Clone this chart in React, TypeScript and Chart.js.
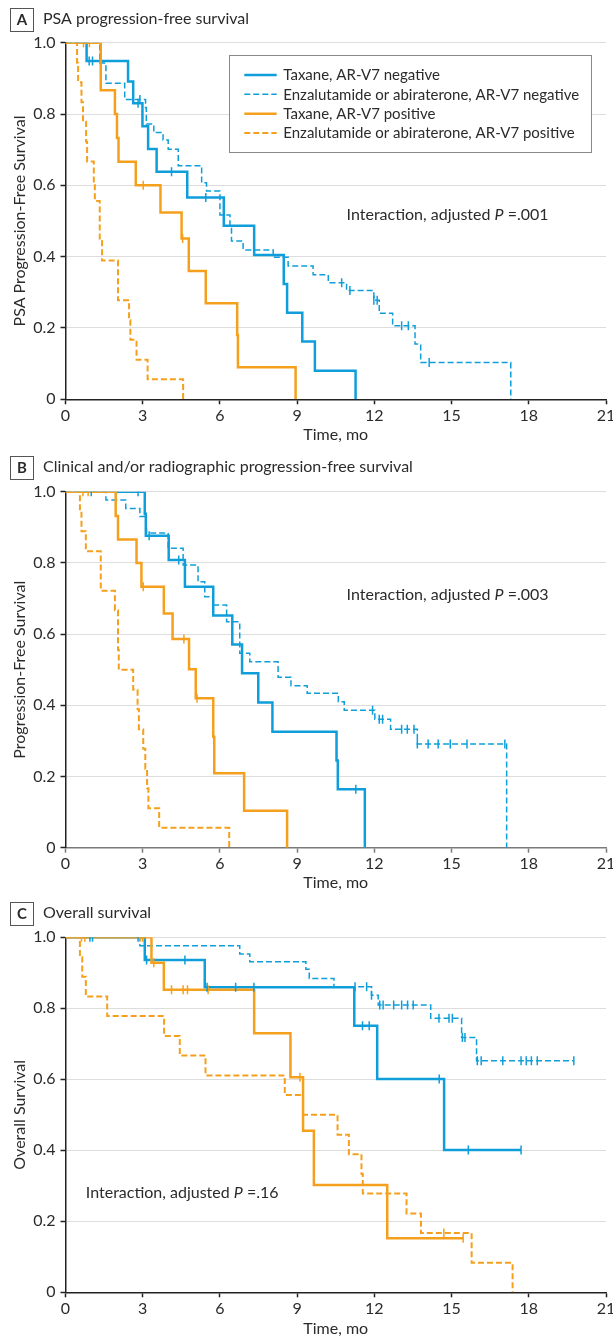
import React, { useEffect, useRef } from "react";
import { Chart, registerables } from "chart.js";

Chart.register(...registerables);

const FONT = "Lato, 'Noto Sans', sans-serif";
const TEXT = "#2b2b2b";
const BLUE = "#0F9EDA";
const ORANGE = "#F5A01C";

// ---- labels / ticks ----
const seriesLabels = [
  "Taxane, AR-V7 negative",
  "Enzalutamide or abiraterone, AR-V7 negative",
  "Taxane, AR-V7 positive",
  "Enzalutamide or abiraterone, AR-V7 positive",
];
const xTicks = [0, 3, 6, 9, 12, 15, 18, 21];
const yTicks = [0, 0.2, 0.4, 0.6, 0.8, 1.0];
const xTitle = "Time, mo";

// ---- Panel A: PSA progression-free survival ----
const psaTaxNegT = [0, 0.82, 2.43, 2.63, 2.99, 3.21, 3.54, 4.73, 6.15, 7.33, 8.48, 8.61, 9.2, 9.69, 11.27];
const psaTaxNegS = [1, 0.949, 0.891, 0.83, 0.766, 0.702, 0.638, 0.566, 0.487, 0.405, 0.323, 0.243, 0.162, 0.08, 0];
const psaTaxNegC = [0.92, 1.05, 2.82, 4.12, 5.45];

const psaEnzNegT = [0, 1.33, 1.57, 2.3, 3.11, 3.14, 3.43, 3.79, 3.99, 4.38, 5.29, 5.48, 6.0, 6.39, 6.45, 6.9, 8.07, 8.65, 9.62, 10.21, 10.92, 11.98, 12.19, 12.71, 13.58, 13.8, 17.3];
const psaEnzNegS = [1, 0.943, 0.886, 0.841, 0.818, 0.772, 0.748, 0.727, 0.701, 0.655, 0.607, 0.584, 0.517, 0.487, 0.444, 0.419, 0.398, 0.374, 0.349, 0.327, 0.305, 0.278, 0.241, 0.206, 0.155, 0.103, 0];
const psaEnzNegC = [2.89, 10.73, 11.05, 11.98, 12.11, 13.06, 13.32, 14.13];

const psaTaxPosT = [0, 1.37, 1.92, 2.0, 2.06, 2.73, 3.69, 4.51, 4.79, 5.45, 6.67, 6.7, 8.94];
const psaTaxPosS = [1, 0.867, 0.8, 0.733, 0.666, 0.6, 0.524, 0.451, 0.36, 0.269, 0.18, 0.09, 0];
const psaTaxPosC = [0.7, 0.93, 3.02, 4.55];

const psaEnzPosT = [0, 0.45, 0.49, 0.62, 0.68, 0.8, 0.84, 1.1, 1.14, 1.33, 1.42, 2.04, 2.47, 2.52, 2.76, 3.19, 4.57];
const psaEnzPosS = [1, 0.944, 0.889, 0.833, 0.778, 0.722, 0.667, 0.611, 0.556, 0.444, 0.389, 0.278, 0.222, 0.167, 0.111, 0.056, 0];
const psaEnzPosC: number[] = [];

// ---- Panel B: clinical/radiographic PFS ----
const pfsTaxNegT = [0, 3.08, 3.12, 4.01, 4.64, 5.74, 6.48, 6.86, 7.49, 8.04, 10.53, 10.58, 11.63];
const pfsTaxNegS = [1, 0.938, 0.876, 0.808, 0.733, 0.652, 0.571, 0.49, 0.408, 0.326, 0.245, 0.164, 0];
const pfsTaxNegC = [2.82, 3.25, 4.4, 11.28];

const pfsEnzNegT = [0, 1.57, 2.34, 2.89, 3.12, 3.15, 3.99, 4.57, 5.15, 5.41, 5.74, 6.26, 6.77, 7.16, 8.26, 8.76, 9.39, 10.6, 10.83, 12.02, 12.63, 13.67, 17.14];
const pfsEnzNegS = [1, 0.977, 0.953, 0.93, 0.907, 0.884, 0.841, 0.794, 0.747, 0.705, 0.682, 0.635, 0.546, 0.522, 0.479, 0.455, 0.434, 0.41, 0.386, 0.361, 0.333, 0.291, 0];
const pfsEnzNegC = [1.0, 11.93, 12.19, 12.32, 13.06, 13.28, 13.54, 13.67, 14.09, 14.48, 14.95, 15.6, 17.07];

const pfsTaxPosT = [0, 1.95, 2.04, 2.76, 2.95, 3.82, 4.16, 4.8, 5.06, 5.74, 5.78, 6.94, 8.61];
const pfsTaxPosS = [1, 0.932, 0.866, 0.8, 0.733, 0.658, 0.586, 0.501, 0.42, 0.312, 0.209, 0.104, 0];
const pfsTaxPosC = [0.68, 0.88, 3.02, 4.6, 5.11];

const pfsEnzPosT = [0, 0.56, 0.62, 0.79, 1.37, 1.92, 2.04, 2.07, 2.63, 2.8, 2.85, 3.02, 3.1, 3.17, 3.22, 3.64, 6.36];
const pfsEnzPosS = [1, 0.944, 0.889, 0.833, 0.722, 0.667, 0.556, 0.5, 0.444, 0.389, 0.333, 0.278, 0.222, 0.167, 0.111, 0.056, 0];
const pfsEnzPosC: number[] = [];

// ---- Panel C: overall survival ----
const osTaxNegT = [0, 3.08, 5.41, 11.22, 12.11, 14.71, 17.7];
const osTaxNegS = [1, 0.936, 0.859, 0.751, 0.601, 0.401, 0.401];
const osTaxNegC = [0.95, 2.82, 3.15, 4.64, 5.5, 6.61, 7.32, 11.54, 11.8, 14.52, 15.65, 17.7];

const osEnzNegT = [0, 2.89, 6.77, 7.16, 9.34, 9.47, 10.43, 11.89, 12.15, 14.19, 15.39, 15.97, 19.75];
const osEnzNegS = [1, 0.976, 0.953, 0.931, 0.91, 0.884, 0.861, 0.837, 0.809, 0.772, 0.718, 0.652, 0.652];
const osEnzNegC = [1.05, 11.25, 11.7, 11.89, 12.21, 12.34, 12.75, 13.06, 13.29, 13.51, 14.51, 14.9, 15.03, 15.42, 15.52, 16.0, 16.15, 16.99, 17.7, 17.9, 18.1, 18.33, 19.75];

const osTaxPosT = [0, 3.34, 3.82, 7.33, 8.74, 9.23, 9.65, 12.5, 15.45];
const osTaxPosS = [1, 0.928, 0.852, 0.73, 0.606, 0.455, 0.302, 0.152, 0.152];
const osTaxPosC = [0.62, 0.75, 2.89, 2.99, 3.43, 4.12, 4.57, 4.74, 5.54, 9.11, 15.45];

const osEnzPosT = [0, 0.56, 0.65, 0.79, 1.62, 3.83, 4.44, 5.44, 8.52, 9.23, 10.57, 11.01, 11.5, 11.55, 13.25, 13.81, 15.78, 17.37];
const osEnzPosS = [1, 0.944, 0.889, 0.833, 0.778, 0.722, 0.667, 0.611, 0.556, 0.5, 0.444, 0.389, 0.333, 0.278, 0.222, 0.167, 0.083, 0];
const osEnzPosC = [14.7];

// ---- styling per series (not data) ----
const seriesStyles = [
  { color: BLUE, width: 2.5, dash: [] as number[] },
  { color: BLUE, width: 1.5, dash: [6, 3] },
  { color: ORANGE, width: 2.5, dash: [] as number[] },
  { color: ORANGE, width: 2, dash: [6, 3] },
];

type Curve = { T: number[]; S: number[]; C: number[] };

type PanelCfg = {
  top: number;
  height: number;
  letter: string;
  title: string;
  yTitle: string;
  curves: Curve[];
  note: string;
  notePos: [number, number];
  legend: boolean;
  plotTop: number;
  plotBottom: number;
  axisColor: string;
};

const panels: PanelCfg[] = [
  {
    top: 0, height: 448, letter: "A", title: "PSA progression-free survival",
    yTitle: "PSA Progression-Free Survival",
    curves: [
      { T: psaTaxNegT, S: psaTaxNegS, C: psaTaxNegC },
      { T: psaEnzNegT, S: psaEnzNegS, C: psaEnzNegC },
      { T: psaTaxPosT, S: psaTaxPosS, C: psaTaxPosC },
      { T: psaEnzPosT, S: psaEnzPosS, C: psaEnzPosC },
    ],
    note: ".001", notePos: [10.92, 0.516], legend: true,
    plotTop: 42.7, plotBottom: 399.3, axisColor: "#222222",
  },
  {
    top: 448, height: 446, letter: "B", title: "Clinical and/or radiographic progression-free survival",
    yTitle: "Progression-Free Survival",
    curves: [
      { T: pfsTaxNegT, S: pfsTaxNegS, C: pfsTaxNegC },
      { T: pfsEnzNegT, S: pfsEnzNegS, C: pfsEnzNegC },
      { T: pfsTaxPosT, S: pfsTaxPosS, C: pfsTaxPosC },
      { T: pfsEnzPosT, S: pfsEnzPosS, C: pfsEnzPosC },
    ],
    note: ".003", notePos: [10.92, 0.71], legend: false,
    plotTop: 43.7, plotBottom: 399.7, axisColor: "#7a7a7a",
  },
  {
    top: 894, height: 444, letter: "C", title: "Overall survival",
    yTitle: "Overall Survival",
    curves: [
      { T: osTaxNegT, S: osTaxNegS, C: osTaxNegC },
      { T: osEnzNegT, S: osEnzNegS, C: osEnzNegC },
      { T: osTaxPosT, S: osTaxPosS, C: osTaxPosC },
      { T: osEnzPosT, S: osEnzPosS, C: osEnzPosC },
    ],
    note: ".16", notePos: [0.79, 0.28], legend: false,
    plotTop: 43.3, plotBottom: 398.3, axisColor: "#222222",
  },
];

function survAt(T: number[], S: number[], t: number) {
  let v = S[0];
  for (let i = 0; i < T.length; i++) if (T[i] <= t) v = S[i];
  return v;
}

function fmtY(v: number) {
  const r = Math.round(v * 10) / 10;
  return r === 0 ? "0" : r.toFixed(1);
}

function Panel({ cfg }: { cfg: PanelCfg }) {
  const ref = useRef<HTMLCanvasElement>(null);
  useEffect(() => {
    const canvas = ref.current;
    if (!canvas) return;
    const H = cfg.height;
    const datasets: any[] = [];
    cfg.curves.forEach((c, i) => {
      const st = seriesStyles[i];
      datasets.push({
        label: seriesLabels[i],
        data: c.T.map((t, k) => ({ x: t, y: c.S[k] })),
        borderColor: st.color,
        backgroundColor: st.color,
        borderWidth: st.width,
        borderDash: st.dash,
        borderCapStyle: "butt",
        borderJoinStyle: "miter",
        stepped: "before",
        pointRadius: 0,
        pointHoverRadius: 0,
        fill: false,
        tension: 0,
        order: 4 - i,
      });
    });
    cfg.curves.forEach((c, i) => {
      const st = seriesStyles[i];
      datasets.push({
        label: seriesLabels[i] + " (censored)",
        data: c.C.map((t) => ({ x: t, y: survAt(c.T, c.S, t) })),
        showLine: false,
        borderColor: st.color,
        backgroundColor: st.color,
        pointStyle: "line",
        pointRotation: 90,
        pointRadius: 4.5,
        pointHoverRadius: 4.5,
        pointBorderWidth: 1.5,
        order: 0,
      });
    });

    const headerPlugin = {
      id: "header",
      afterDraw(chart: any) {
        const ctx = chart.ctx;
        ctx.save();
        ctx.strokeStyle = "#555";
        ctx.lineWidth = 1;
        ctx.strokeRect(10.5, 8.5, 23, 23);
        ctx.fillStyle = TEXT;
        ctx.textBaseline = "middle";
        ctx.textAlign = "center";
        ctx.font = `bold 15px ${FONT}`;
        ctx.fillText(cfg.letter, 22, 20.5);
        ctx.textAlign = "left";
        ctx.font = `16px ${FONT}`;
        ctx.fillText(cfg.title, 43, 19);
        ctx.restore();
      },
    };

    const notePlugin = {
      id: "note",
      afterDraw(chart: any) {
        const ctx = chart.ctx;
        const xs = chart.scales.x;
        const ys = chart.scales.y;
        let x = xs.getPixelForValue(cfg.notePos[0]);
        const y = ys.getPixelForValue(cfg.notePos[1]);
        ctx.save();
        ctx.fillStyle = TEXT;
        ctx.textBaseline = "middle";
        ctx.textAlign = "left";
        const parts: [string, string][] = [
          ["Interaction, adjusted ", ""],
          ["P", "italic "],
          [" =" + cfg.note, ""],
        ];
        for (const [s, style] of parts) {
          ctx.font = `${style}16px ${FONT}`;
          ctx.fillText(s, x, y);
          x += ctx.measureText(s).width;
        }
        ctx.restore();
      },
    };

    const legendPlugin = {
      id: "kmLegend",
      afterDraw(chart: any) {
        if (!cfg.legend) return;
        const ctx = chart.ctx;
        const bx = 229.5, by = 55.5, bw = 362, bh = 97;
        ctx.save();
        ctx.fillStyle = "#fff";
        ctx.fillRect(bx, by, bw, bh);
        ctx.strokeStyle = "#888";
        ctx.lineWidth = 1;
        ctx.strokeRect(bx, by, bw, bh);
        const rowY = [75, 94.3, 113.7, 133];
        for (let i = 0; i < 4; i++) {
          const ds = chart.data.datasets[i];
          ctx.strokeStyle = ds.borderColor;
          ctx.lineWidth = ds.borderWidth;
          ctx.setLineDash(ds.borderDash || []);
          ctx.beginPath();
          ctx.moveTo(244.3, rowY[i]);
          ctx.lineTo(276.7, rowY[i]);
          ctx.stroke();
          ctx.setLineDash([]);
          ctx.fillStyle = TEXT;
          ctx.font = `15px ${FONT}`;
          ctx.textBaseline = "middle";
          ctx.textAlign = "left";
          ctx.fillText(ds.label, 283.3, rowY[i] + 0.5);
        }
        ctx.restore();
      },
    };

    const chart = new Chart(canvas, {
      type: "line",
      data: { datasets },
      options: {
        animation: false,
        responsive: false,
        events: [],
        layout: { padding: { top: cfg.plotTop, right: 7, left: 0, bottom: 0 } },
        plugins: {
          legend: { display: false },
          tooltip: { enabled: false },
          title: { display: false },
        },
        scales: {
          x: {
            type: "linear",
            min: 0,
            max: 21,
            afterBuildTicks: (s: any) => {
              s.ticks = xTicks.map((v) => ({ value: v }));
            },
            afterFit: (s: any) => {
              s.height = H - cfg.plotBottom;
              s.paddingLeft = 0;
              s.paddingRight = 0;
            },
            ticks: {
              font: { family: FONT, size: 16 },
              color: TEXT,
              padding: 2,
              maxRotation: 0,
              autoSkip: false,
            },
            grid: {
              drawOnChartArea: false,
              drawTicks: true,
              tickLength: 5,
              tickColor: cfg.axisColor,
              tickWidth: 1.5,
            },
            border: { color: cfg.axisColor, width: 1.5 },
            title: {
              display: true,
              text: xTitle,
              font: { family: FONT, size: 16 },
              color: TEXT,
              padding: { top: 0, bottom: H - 444 },
            },
          },
          y: {
            type: "linear",
            min: 0,
            max: 1,
            afterBuildTicks: (s: any) => {
              s.ticks = yTicks.map((v) => ({ value: v }));
            },
            afterFit: (s: any) => {
              s.width = 65.5;
            },
            ticks: {
              font: { family: FONT, size: 16 },
              color: TEXT,
              padding: 5,
              callback: (v: any) => fmtY(Number(v)),
            },
            grid: {
              color: "#dddddd",
              lineWidth: 1,
              drawTicks: true,
              tickLength: 5,
              tickColor: "#222222",
              tickWidth: 1.5,
            },
            border: { color: "#222222", width: 1.5 },
            title: {
              display: true,
              text: cfg.yTitle,
              font: { family: FONT, size: 16 },
              color: TEXT,
              padding: { top: 10, bottom: 0 },
            },
          },
        },
      } as any,
      plugins: [headerPlugin, notePlugin, legendPlugin],
    });
    return () => chart.destroy();
  }, [cfg]);

  return (
    <canvas
      ref={ref}
      width={613}
      height={cfg.height}
      style={{ position: "absolute", left: 0, top: cfg.top, width: 613, height: cfg.height }}
    />
  );
}

export default function App() {
  return (
    <div style={{ position: "absolute", left: 0, top: 0, width: 613, height: 1338, background: "#fff" }}>
      {panels.map((p) => (
        <Panel key={p.letter} cfg={p} />
      ))}
    </div>
  );
}
